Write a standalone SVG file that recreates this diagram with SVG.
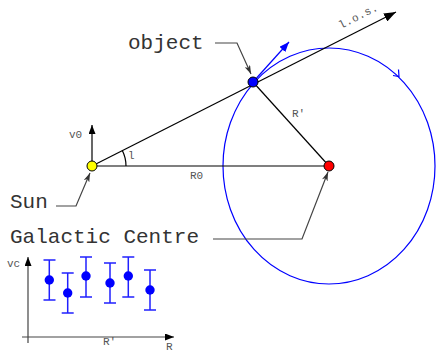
<svg xmlns="http://www.w3.org/2000/svg" width="437" height="353" viewBox="0 0 437 353">
<style>
.big{font-family:"Liberation Mono","Courier New",monospace;font-size:21px;fill:#333}
.sm{font-family:"Liberation Mono","Courier New",monospace;font-size:11px;fill:#555}
.ln{stroke:#000;stroke-width:1.2;fill:none}
.gl{stroke:#444;stroke-width:1.2;fill:none}
.bl{stroke:#0000ff;stroke-width:1.2;fill:none}
.eb{stroke:#2020ff;stroke-width:1.5;fill:none}
.dot{stroke:#000;stroke-width:1}
</style>
<defs>
<marker id="ab" markerUnits="userSpaceOnUse" markerWidth="12" markerHeight="9" refX="12" refY="4.5" orient="auto"><path d="M0,0 L12,4.5 L0,9 z" fill="#000"/></marker>
<marker id="as" markerUnits="userSpaceOnUse" markerWidth="9" markerHeight="7" refX="9" refY="3.5" orient="auto"><path d="M0,0 L9,3.5 L0,7 z" fill="#000"/></marker>
<marker id="au" markerUnits="userSpaceOnUse" markerWidth="10" markerHeight="8" refX="10" refY="4" orient="auto"><path d="M0,0 L10,4 L0,8 z" fill="#0000ff"/></marker>
<marker id="al" markerUnits="userSpaceOnUse" markerWidth="9" markerHeight="6" refX="9" refY="3" orient="auto"><path d="M0,0 L9,3 L0,6 L2.5,3 z" fill="#333"/></marker>
</defs>
<g id="orbit">
<ellipse cx="329" cy="166" rx="106" ry="118" class="bl"/>
<path d="M393,75.5 L399,76.5 L398.5,69.5" class="bl"/>
</g>
<g id="connectors">
<line x1="92" y1="166" x2="329" y2="166" class="ln"/>
<line x1="92" y1="166" x2="396" y2="12" class="ln" marker-end="url(#ab)"/>
<line x1="253" y1="82" x2="329" y2="166" class="ln"/>
<line x1="92" y1="166" x2="92" y2="125" class="ln" marker-end="url(#as)"/>
<path d="M126,166 A34,34 0 0,0 122.3,150.6" class="ln"/>
<line x1="253" y1="82" x2="289" y2="42" class="bl" marker-end="url(#au)"/>
<path d="M215,43 L237,43 L251,74" class="gl" marker-end="url(#al)"/>
<path d="M56,206 L76,206 L90,173" class="gl" marker-end="url(#al)"/>
<path d="M213,239 L302,239 L328,172" class="gl" marker-end="url(#al)"/>
</g>
<g id="sun"><circle cx="92" cy="166" r="5" fill="#ffff00" class="dot"/></g>
<g id="centre"><circle cx="329" cy="166" r="5" fill="#ff0000" class="dot"/></g>
<g id="object"><circle cx="253" cy="82" r="5" fill="#0000ff" class="dot"/></g>
<g id="labels">
<text x="128" y="49" class="big">object</text>
<text x="10" y="208" class="big">Sun</text>
<text x="10" y="243" class="big">Galactic Centre</text>
<text x="69" y="138" class="sm">v0</text>
<text x="128" y="159" class="sm">l</text>
<text x="190" y="179" class="sm">R0</text>
<text x="292" y="117" class="sm">R′</text>
<text x="0" y="0" class="sm" font-size="12" transform="translate(341,29) rotate(-27)" letter-spacing="0.5">l.o.s.</text>
</g>
<g id="plot">
<line x1="28" y1="343" x2="28" y2="257" class="gl" marker-end="url(#as)"/>
<line x1="22" y1="337" x2="174" y2="337" class="gl" marker-end="url(#as)"/>
<text x="7" y="267" class="sm">vc</text>
<text x="103" y="345" class="sm">R′</text>
<text x="166" y="350" class="sm">R</text>
<g class="eb">
<path d="M49.3,260 V300 M43.5,260 H55.5 M43.5,300 H55.5"/>
<path d="M67.7,273 V313 M61.7,273 H73.7 M61.7,313 H73.7"/>
<path d="M86,257 V297 M80,257 H92 M80,297 H92"/>
<path d="M110,263 V303 M104,263 H116 M104,303 H116"/>
<path d="M128.3,257 V297 M122.3,257 H134.3 M122.3,297 H134.3"/>
<path d="M150,270 V310 M144,270 H156 M144,310 H156"/>
</g>
<g fill="#0000ff">
<circle cx="49.3" cy="280" r="4.7"/>
<circle cx="67.7" cy="293" r="4.7"/>
<circle cx="86" cy="276" r="4.7"/>
<circle cx="110" cy="283" r="4.7"/>
<circle cx="128.3" cy="276" r="4.7"/>
<circle cx="150" cy="290" r="4.7"/>
</g>
</g>
</svg>
